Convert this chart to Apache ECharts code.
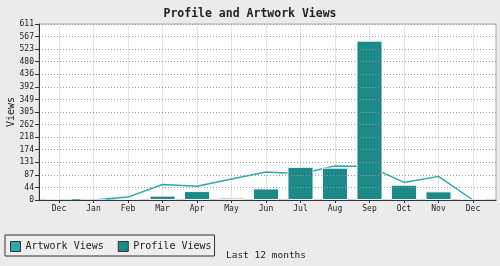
<!DOCTYPE html>
<html>
<head>
<meta charset="utf-8">
<script src="https://cdn.jsdelivr.net/npm/echarts@6/dist/echarts.min.js"></script>
<style>
html,body{margin:0;padding:0;background:#ebebeb;}
#chart{width:500px;height:266px;}
</style>
</head>
<body>
<div id="chart"></div>
<script>
var titleText = 'Profile and Artwork Views';
var categories = ['Dec','Jan','Feb','Mar','Apr','May','Jun','Jul','Aug','Sep','Oct','Nov','Dec'];
var artworkViews = [0, 0, 10, 54, 48, 73, 97, 91, 118, 116, 61, 82, 0];
var profileViews = [0, 0, 3, 15, 31, 8, 40, 115, 112, 553, 53, 30, 0];
var yTickLabels = ['0','44','87','131','174','218','262','305','349','392','436','480','523','567','611'];
var yMax = 611;
var yInterval = yMax / (yTickLabels.length - 1);

var FONT = 'DejaVu Sans Mono';
var chart = echarts.init(document.getElementById('chart'), null, {renderer: 'canvas'});
chart.setOption({
  backgroundColor: '#ebebeb',
  animation: false,
  textStyle: {fontFamily: FONT},
  title: {
    text: titleText, left: 'center', top: 3,
    textStyle: {fontFamily: FONT, fontSize: 11.5, fontWeight: 'bold', color: '#222'}
  },
  legend: {
    left: 5, top: 235, orient: 'horizontal',
    data: [{name: 'Artwork Views', icon: 'rect'}, {name: 'Profile Views', icon: 'rect'}],
    itemWidth: 10, itemHeight: 10, itemGap: 14,
    padding: [6, 3, 4, 5],
    borderColor: '#333', borderWidth: 1, backgroundColor: '#eeeeee', borderRadius: 0,
    itemStyle: {borderColor: '#333', borderWidth: 1},
    textStyle: {fontFamily: FONT, fontSize: 10, color: '#222'}
  },
  grid: [
    {left: 39, top: 24, width: 457, height: 176, show: true, backgroundColor: '#ffffff',
     borderColor: '#aaaaaa', borderWidth: 1, containLabel: false, outerBoundsMode: 'none'},
    {left: 59, top: 24, width: 414, height: 176, show: false, containLabel: false, outerBoundsMode: 'none'}
  ],
  xAxis: [
    {gridIndex: 0, type: 'value', min: 0, max: 1, z: 5,
     axisLine: {show: true, lineStyle: {color: '#333', width: 1}},
     axisTick: {show: false}, axisLabel: {show: false}, splitLine: {show: false}},
    {gridIndex: 1, type: 'category', data: categories, boundaryGap: false,
     axisLine: {show: false},
     axisTick: {show: true, length: 3, lineStyle: {color: '#333'}},
     axisLabel: {fontFamily: FONT, fontSize: 8, color: '#222', margin: 5, interval: 0},
     splitLine: {show: true, lineStyle: {color: '#e4e4e4', width: 1}},
     name: 'Last 12 months', nameLocation: 'middle', nameGap: 51, nameMoveOverlap: false,
     nameTextStyle: {fontFamily: FONT, fontSize: 9.5, color: '#222'}}
  ],
  yAxis: [
    {gridIndex: 0, type: 'value', min: 0, max: yMax, interval: yInterval, z: 5,
     axisLine: {show: true, lineStyle: {color: '#333', width: 1}},
     axisTick: {show: true, length: 4, lineStyle: {color: '#333'}},
     axisLabel: {fontFamily: FONT, fontSize: 8, color: '#222', margin: 5,
       formatter: function (v, i) { return yTickLabels[i] !== undefined ? yTickLabels[i] : String(Math.round(v)); }},
     splitLine: {show: true, lineStyle: {color: '#999', width: 1, type: [1, 2]}},
     name: 'Views', nameLocation: 'middle', nameGap: 23, nameMoveOverlap: false,
     nameTextStyle: {fontFamily: FONT, fontSize: 10, color: '#222'}},
    {gridIndex: 1, type: 'value', min: 0, max: yMax, show: false}
  ],
  series: [
    {name: 'Artwork Views', type: 'line', xAxisIndex: 1, yAxisIndex: 1, data: artworkViews,
     symbol: 'none', z: 1, color: '#2aabab',
     lineStyle: {color: '#2aabab', width: 1.5},
     itemStyle: {color: '#2aabab'}},
    {name: 'Profile Views', type: 'bar', xAxisIndex: 1, yAxisIndex: 1, data: profileViews,
     barWidth: 26, z: 2,
     itemStyle: {color: '#1d8a8a', borderColor: '#f2f2f2', borderWidth: 1}}
  ]
});
</script>
</body>
</html>
